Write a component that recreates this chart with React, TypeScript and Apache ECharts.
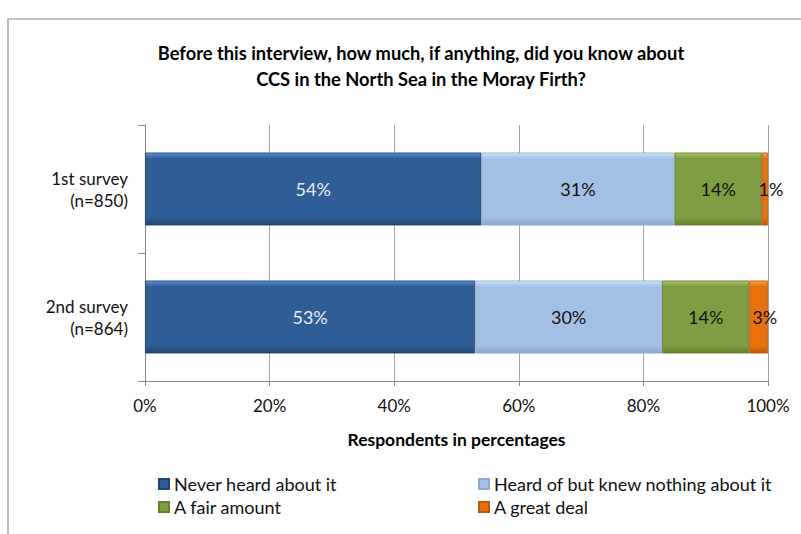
import React, { useEffect, useRef } from "react";
import * as echarts from "echarts";

const categories = ["1st survey\n(n=850)", "2nd survey\n(n=864)"];
const seriesNames = [
  "Never heard about it",
  "Heard of but knew nothing about it",
  "A fair amount",
  "A great deal",
];
const neverHeard = [54, 53];
const heardNothing = [31, 30];
const fairAmount = [14, 14];
const greatDeal = [1, 3];
const xTicks = [0, 20, 40, 60, 80, 100];

const FONT = "Lato, 'Open Sans', sans-serif";

const grad = (top: string, mid: string, bottom: string) =>
  new echarts.graphic.LinearGradient(0, 0, 0, 1, [
    { offset: 0, color: top },
    { offset: 0.08, color: mid },
    { offset: 0.9, color: mid },
    { offset: 1, color: bottom },
  ]);

export default function App() {
  const ref = useRef<HTMLDivElement>(null);
  useEffect(() => {
    if (!ref.current) return;
    const chart = echarts.init(ref.current, undefined, { renderer: "svg" });
    const styles = [
      { fill: grad("#5C8CC8", "#2F5D96", "#23466F"), border: "#24456C", label: "#E6EEF8", offset: [0, 0] },
      { fill: grad("#D2E2F5", "#A3C0E4", "#8AA6CA"), border: "#8FA9CB", label: "#111", offset: [0, 0] },
      { fill: grad("#A9C46A", "#7F9D42", "#64802F"), border: "#637F30", label: "#111", offset: [0, 0] },
      { fill: grad("#F7A050", "#E8700D", "#B95808"), border: "#B75A0C", label: "#111", offset: [6, 0] },
    ];
    const dataSets = [neverHeard, heardNothing, fairAmount, greatDeal];
    const series = seriesNames.map((name, i) => ({
      name,
      type: "bar",
      stack: "total",
      barWidth: "57%",
      data: dataSets[i],
      itemStyle: {
        color: styles[i].fill,
        borderColor: styles[i].border,
        borderWidth: 0.8,
      },
      label: {
        show: true,
        position: "inside",
        offset: styles[i].offset,
        formatter: (p: any) => `${Math.round(p.value)}%`,
        color: styles[i].label,
        fontFamily: FONT,
        fontSize: 18,
      },
    }));
    const legendText = { fontFamily: FONT, fontSize: 18, color: "#111", lineHeight: 18 };
    chart.setOption({
      animation: false,
      title: {
        text: "Before this interview, how much, if anything, did you know about\nCCS in the North Sea in the Moray Firth?",
        left: 416,
        textAlign: "center",
        top: 35,
        textStyle: {
          fontFamily: FONT,
          fontSize: 18.3,
          fontWeight: "bold",
          color: "#000",
          lineHeight: 26,
        },
      },
      graphic: [
        {
          type: "rect",
          shape: { x: 8, y: 19, width: 1000, height: 1000 },
          style: { fill: "none", stroke: "#8C8C8C", lineWidth: 1.2 },
          silent: true,
        },
      ],
      legend: [
        {
          data: [seriesNames[0], seriesNames[2]],
          orient: "vertical",
          left: 153,
          top: 470,
          itemWidth: 10,
          itemHeight: 10,
          itemGap: 5,
          icon: "rect",
          textStyle: legendText,
        },
        {
          data: [seriesNames[1], seriesNames[3]],
          orient: "vertical",
          left: 473,
          top: 470,
          itemWidth: 10,
          itemHeight: 10,
          itemGap: 5,
          icon: "rect",
          textStyle: legendText,
        },
      ],
      grid: { left: 145, right: 33, top: 125, bottom: 153, containLabel: false },
      xAxis: {
        type: "value",
        min: xTicks[0],
        max: xTicks[xTicks.length - 1],
        interval: 20,
        name: "Respondents in percentages",
        nameLocation: "middle",
        nameGap: 49,
        nameTextStyle: { fontFamily: FONT, fontSize: 17.5, fontWeight: "bold", color: "#000" },
        axisLine: { show: true, lineStyle: { color: "#868686", width: 1 } },
        axisTick: { show: true, length: 5, lineStyle: { color: "#868686" } },
        splitLine: { show: true, lineStyle: { color: "#A6A6A6", width: 1 } },
        axisLabel: {
          formatter: (v: number) => `${v}%`,
          fontFamily: FONT,
          fontSize: 17,
          color: "#111",
          margin: 16,
        },
      },
      yAxis: {
        type: "category",
        inverse: true,
        data: categories,
        axisLine: { show: true, lineStyle: { color: "#868686", width: 1 } },
        axisTick: { show: true, length: 7, lineStyle: { color: "#868686" } },
        axisLabel: {
          fontFamily: FONT,
          fontSize: 17,
          color: "#111",
          margin: 17,
          align: "right",
          lineHeight: 22,
        },
      },
      series,
    });
    return () => chart.dispose();
  }, []);
  return (
    <div
      ref={ref}
      style={{ position: "fixed", left: 0, top: 0, width: 801, height: 534, background: "#fff" }}
    />
  );
}
